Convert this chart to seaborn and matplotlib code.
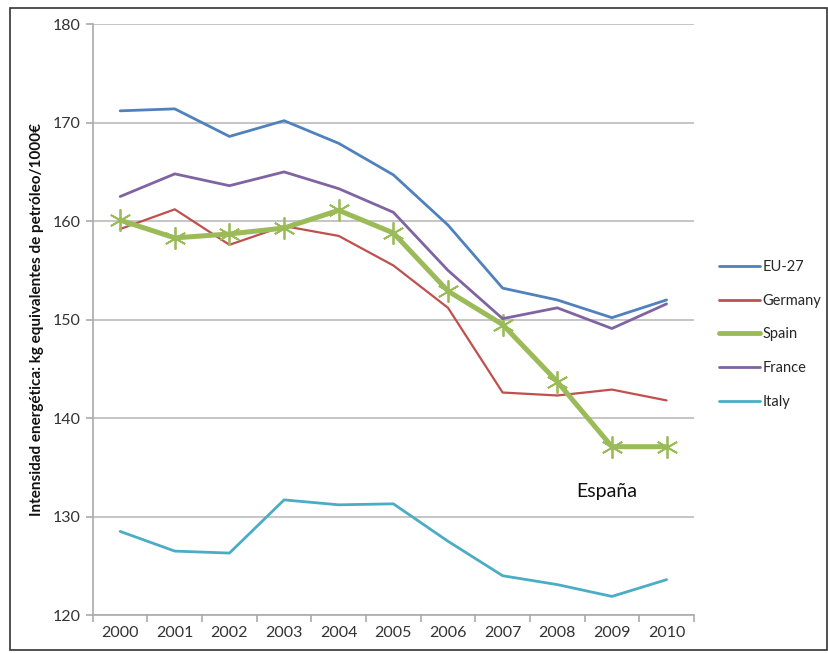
import matplotlib
matplotlib.use("Agg")
import matplotlib.pyplot as plt
import seaborn as sns
import pandas as pd
import numpy as np
from matplotlib.patches import Rectangle

years = [2000, 2001, 2002, 2003, 2004, 2005, 2006, 2007, 2008, 2009, 2010]
eu27 = [171.2, 171.4, 168.6, 170.2, 167.9, 164.7, 159.6, 153.2, 152.0, 150.2, 152.0]
germany = [159.2, 161.2, 157.6, 159.5, 158.5, 155.5, 151.2, 142.6, 142.3, 142.9, 141.8]
spain = [160.1, 158.3, 158.7, 159.3, 161.1, 158.8, 152.9, 149.5, 143.7, 137.1, 137.1]
france = [162.5, 164.8, 163.6, 165.0, 163.3, 160.9, 155.0, 150.1, 151.2, 149.1, 151.6]
italy = [128.5, 126.5, 126.3, 131.7, 131.2, 131.3, 127.5, 124.0, 123.1, 121.9, 123.6]
series_names = ["EU-27", "Germany", "Spain", "France", "Italy"]
colors = ["#4F81BD", "#C0504D", "#9BBB59", "#8064A2", "#4BACC6"]
y_ticks = [120, 130, 140, 150, 160, 170, 180]
ylabel = "Intensidad energética: kg equivalentes de petróleo/1000€"
annot = "España"

sns.set_theme(style="white")
plt.rcParams["font.family"] = ["Lato", "DejaVu Sans"]

rows = []
for name, vals in zip(series_names, [eu27, germany, spain, france, italy]):
    for y, v in zip(years, vals):
        rows.append({"year": y, "value": v, "series": name})
df = pd.DataFrame(rows)

fig = plt.figure(figsize=(8.29, 6.53), dpi=100)
ax = fig.add_axes([0.112, 0.058, 0.725, 0.905])

palette = dict(zip(series_names, colors))
widths = {"EU-27": 2.0, "Germany": 1.6, "Spain": 3.6, "France": 2.0, "Italy": 2.0}
for name in series_names:
    sub = df[df["series"] == name]
    sns.lineplot(data=sub, x="year", y="value", ax=ax, color=palette[name],
                 linewidth=widths[name], label=name,
                 marker=(6, 2, 0) if name == "Spain" else None,
                 markersize=16 if name == "Spain" else 0,
                 markeredgewidth=1.3, markeredgecolor="#9BBB59")

ax.set_xlim(1999.5, 2010.5)
ax.set_ylim(120, 180)
ax.set_yticks(y_ticks)
ax.set_xticks(years)
ax.set_xticks(np.arange(1999.5, 2011, 1.0), minor=True)
ax.set_xticklabels([str(y) for y in years], fontsize=11.5, color="#333333")
ax.set_yticklabels([str(v) for v in y_ticks], fontsize=11.5, color="#333333")
ax.yaxis.grid(True, color="#BBBBBB", linewidth=1.2)
ax.xaxis.grid(False)
for s in ["top", "right"]:
    ax.spines[s].set_visible(False)
for s in ["left", "bottom"]:
    ax.spines[s].set_color("#AAAAAA")
    ax.spines[s].set_linewidth(1.2)
ax.set_xlabel("")
ax.set_ylabel(ylabel, fontsize=11, fontweight="bold", labelpad=6, color="#111111")
ax.tick_params(axis="x", which="major", length=0, pad=8)
ax.tick_params(axis="x", which="minor", length=5, width=1.2, color="#AAAAAA", direction="out", bottom=True)
ax.tick_params(axis="y", which="major", length=5, width=1.2, color="#AAAAAA", direction="out", left=True, pad=4)

ax.text(2008.9, 132.6, annot, fontsize=14, color="#111111", ha="center", va="center")

leg = ax.legend(loc="center left", bbox_to_anchor=(1.02, 0.475), frameon=False,
                fontsize=10.5, handlelength=2.8, labelspacing=1.35, handletextpad=0.2)
for line in leg.get_lines():
    line.set_marker("")
    line.set_linewidth(2.0 if line.get_label() != "Spain" else 3.5)

fig.patches.append(Rectangle((0.012, 0.005), 0.985, 0.982, transform=fig.transFigure,
                             fill=False, edgecolor="#333333", linewidth=1.2))

fig.savefig("out.png", dpi=100)
